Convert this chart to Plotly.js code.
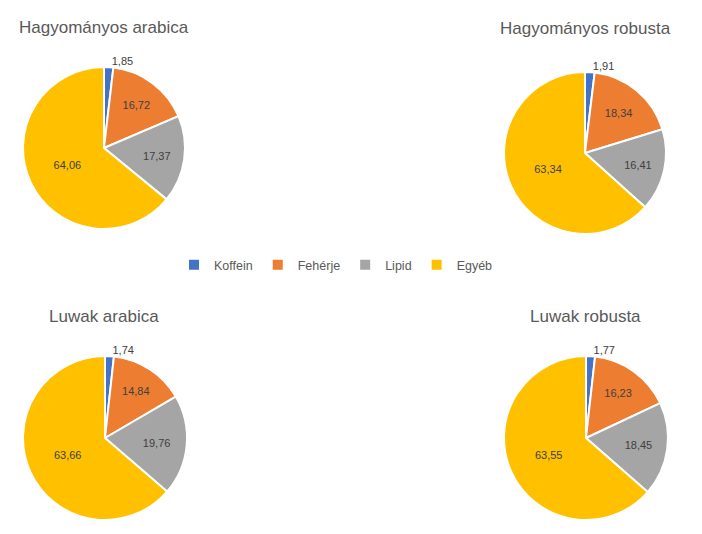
<!DOCTYPE html>
<html>
<head>
<meta charset="utf-8">
<script src="https://cdn.plot.ly/plotly-3.0.1.min.js"></script>
<style>
  html, body { margin: 0; padding: 0; background: #fff; }
  #chart { width: 702px; height: 534px; }
</style>
</head>
<body>
<div id="chart"></div>
<script>
// components (legend order)
const components = ['Koffein', 'Fehérje', 'Lipid', 'Egyéb'];
const colors = ['#4472C4', '#ED7D31', '#A5A5A5', '#FFC000'];

// one array per coffee sample
const hagyomanyosArabica = [1.85, 16.72, 17.37, 64.06];
const hagyomanyosRobusta = [1.91, 18.34, 16.41, 63.34];
const luwakArabica = [1.74, 14.84, 19.76, 63.66];
const luwakRobusta = [1.77, 16.23, 18.45, 63.55];

const titles = ['Hagyományos arabica', 'Hagyományos robusta', 'Luwak arabica', 'Luwak robusta'];

const W = 702, H = 534;
// pie boxes in pixels: [left, top, size]
const boxes = [
  [23, 67, 162],
  [504, 72, 162],
  [23, 356, 164],
  [504, 356, 164]
];
// title positions in pixels (center x, center y)
const titlePos = [[104, 27], [585, 28], [104, 316], [585, 316]];

const series = [hagyomanyosArabica, hagyomanyosRobusta, luwakArabica, luwakRobusta];

const plotData = series.map((vals, i) => {
  const [l, t, s] = boxes[i];
  return {
    type: 'pie',
    labels: components,
    values: vals,
    sort: false,
    direction: 'clockwise',
    rotation: 0,
    marker: { colors: colors, line: { color: '#ffffff', width: 2 } },
    texttemplate: '%{value:.2f}',
    textposition: ['outside', 'inside', 'inside', 'inside'],
    insidetextorientation: 'horizontal',
    textfont: { color: '#404040', size: 11 },
    hoverinfo: 'label+value',
    showlegend: i === 0,
    domain: { x: [l / W, (l + s) / W], y: [1 - (t + s) / H, 1 - t / H] }
  };
});

const annotations = titles.map((txt, i) => ({
  text: txt,
  xref: 'paper', yref: 'paper',
  x: titlePos[i][0] / W, y: 1 - titlePos[i][1] / H,
  xanchor: 'center', yanchor: 'middle',
  showarrow: false,
  font: { size: 17, color: '#595959' }
}));

const layout = {
  width: W,
  height: H,
  margin: { l: 0, r: 0, t: 0, b: 0 },
  paper_bgcolor: '#ffffff',
  separators: ', ',
  font: { family: 'Liberation Sans, Arial, sans-serif', color: '#595959' },
  annotations: annotations,
  legend: {
    orientation: 'h',
    x: 336 / W, xanchor: 'center',
    y: 1 - 265 / H, yanchor: 'middle',
    font: { size: 12.5, color: '#595959' },
    itemwidth: 30,
    traceorder: 'normal'
  }
};

Plotly.newPlot('chart', plotData, layout, { displayModeBar: false });
</script>
</body>
</html>
